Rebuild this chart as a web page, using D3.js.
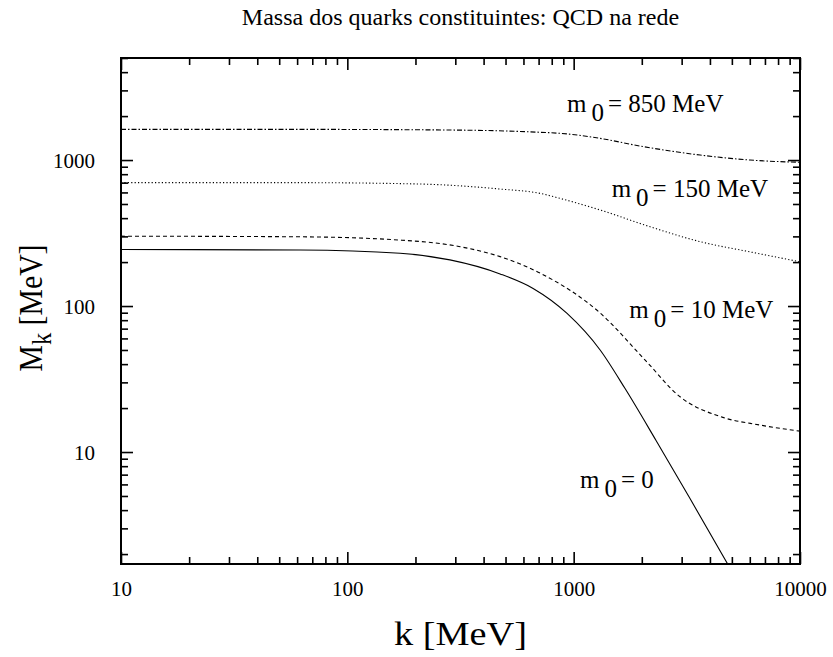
<!DOCTYPE html>
<html>
<head>
<meta charset="utf-8">
<script src="https://cdn.jsdelivr.net/npm/d3@7"></script>
<style>
  body { margin: 0; background: #fff; }
  svg { display: block; font-family: "Liberation Serif", "DejaVu Serif", serif; }
  .frame .domain { display: none; }
  .frame line { stroke: #000; stroke-width: 1.6; }
  .frame text { font-family: "Liberation Serif", serif; font-size: 21px; fill: #000; }
</style>
</head>
<body>
<svg id="chart" width="833" height="657"></svg>
<script>
// k [MeV] vs M_k [MeV]
const k850 = [10, 62, 315, 711, 871, 1309, 1965, 3620, 6010, 10000];
const m850 = [1622, 1622, 1603, 1549, 1524, 1408, 1247, 1082, 1000, 965];

const k150 = [10, 62, 209, 473, 711, 871, 1309, 2178, 3620, 6010, 10000];
const m150 = [700, 700, 685, 633, 591, 546, 455, 349, 276, 235, 201];

const k10 = [10, 62, 171, 315, 473, 711, 1309, 2070, 2951, 4436, 6668, 10000];
const m10 = [301, 298, 283, 255, 218, 168, 89.6, 42.6, 23.9, 17.5, 15.3, 13.9];

const k0 = [10, 62, 171, 284, 473, 662, 935, 1309, 1687, 2312, 3266, 4800, 5500];
const m0 = [244, 242, 230, 207, 166, 132, 89, 50, 27.2, 12.0, 4.8, 1.70, 1.17];

const xMajor = [10, 100, 1000, 10000];
const yMajor = [10, 100, 1000];

const labels = [
    { main: "m", sub: "0", rest: "= 850 MeV", k: 935, m: 2140 },
    { main: "m", sub: "0", rest: "= 150 MeV", k: 1472, m: 561 },
    { main: "m", sub: "0", rest: "= 10 MeV", k: 1762, m: 82.4 },
    { main: "m", sub: "0", rest: "= 0", k: 1067, m: 5.64 }
];

const series = [
    { ks: k850, ms: m850, dash: "5,2,1.5,2" },
    { ks: k150, ms: m150, dash: "1.2,2.2" },
    { ks: k10, ms: m10, dash: "4,3" },
    { ks: k0, ms: m0, dash: null }
];

const W = 833, H = 657;
const margin = { top: 58, right: 33, bottom: 93, left: 121 };
const w = W - margin.left - margin.right;
const h = H - margin.top - margin.bottom;

const svg = d3.select("#chart");

const x = d3.scaleLog().domain([10, 10000]).range([0, w]);
const y = d3.scaleLog().domain([1.71, 5000]).range([h, 0]);

const g = svg.append("g").attr("transform", `translate(${margin.left},${margin.top})`);

g.append("clipPath").attr("id", "clip")
    .append("rect").attr("width", w).attr("height", h);

// minor ticks: everything the log scale gives that is not a power of ten
const xMinor = x.ticks().filter(t => !xMajor.includes(t) && t > 10 && t < 10000);
const yMinor = y.ticks().filter(t => !yMajor.includes(t));

const majorLen = 12, minorLen = 7;

// bottom + top
const xLab = g.append("g").attr("class", "frame").attr("transform", `translate(0,${h})`)
    .call(d3.axisBottom(x).tickValues(xMajor).tickSize(-majorLen).tickPadding(17).tickFormat(d3.format("d")));
g.append("g").attr("class", "frame").attr("transform", `translate(0,${h})`)
    .call(d3.axisBottom(x).tickValues(xMinor).tickSize(-minorLen).tickFormat(""));
g.append("g").attr("class", "frame")
    .call(d3.axisTop(x).tickValues(xMajor).tickSize(-majorLen).tickFormat(""));
g.append("g").attr("class", "frame")
    .call(d3.axisTop(x).tickValues(xMinor).tickSize(-minorLen).tickFormat(""));

// left + right
const yLab = g.append("g").attr("class", "frame")
    .call(d3.axisLeft(y).tickValues(yMajor).tickSize(-majorLen).tickPadding(26).tickFormat(d3.format("d")));
g.append("g").attr("class", "frame")
    .call(d3.axisLeft(y).tickValues(yMinor).tickSize(-minorLen).tickFormat(""));
g.append("g").attr("class", "frame").attr("transform", `translate(${w},0)`)
    .call(d3.axisRight(y).tickValues(yMajor).tickSize(-majorLen).tickFormat(""));
g.append("g").attr("class", "frame").attr("transform", `translate(${w},0)`)
    .call(d3.axisRight(y).tickValues(yMinor).tickSize(-minorLen).tickFormat(""));

yLab.selectAll("text").attr("dy", "0.35em");
xLab.selectAll("text").attr("dy", "0.71em");

// curves
const line = d3.line()
    .x(d => x(d[0]))
    .y(d => y(d[1]))
    .curve(d3.curveMonotoneX);

g.append("g").attr("clip-path", "url(#clip)")
    .selectAll("path")
    .data(series)
    .join("path")
    .attr("d", s => line(s.ks.map((kv, i) => [kv, s.ms[i]])))
    .attr("fill", "none")
    .attr("stroke", "#000")
    .attr("stroke-width", 1.1)
    .attr("stroke-dasharray", s => s.dash);

// frame box
g.append("rect")
    .attr("width", w).attr("height", h)
    .attr("fill", "none").attr("stroke", "#000").attr("stroke-width", 2);

// curve labels
const lab = g.selectAll("text.lab")
    .data(labels)
    .join("text")
    .attr("class", "lab")
    .attr("x", d => x(d.k))
    .attr("y", d => y(d.m))
    .attr("font-size", 25);
lab.append("tspan").text(d => d.main);
lab.append("tspan").attr("dx", 5).attr("dy", 9).text(d => d.sub);
lab.append("tspan").attr("dx", 4).attr("dy", -9).text(d => d.rest);

// titles
svg.append("text")
    .attr("x", margin.left + w / 2).attr("y", 25)
    .attr("text-anchor", "middle").attr("font-size", 24)
    .text("Massa dos quarks constituintes: QCD na rede");

svg.append("text")
    .attr("x", margin.left + w / 2).attr("y", 645)
    .attr("text-anchor", "middle").attr("font-size", 34)
    .attr("textLength", 133).attr("lengthAdjust", "spacingAndGlyphs")
    .text("k [MeV]");

const yl = svg.append("text")
    .attr("transform", `translate(42,308) rotate(-90)`)
    .attr("text-anchor", "middle").attr("font-size", 34)
    .attr("textLength", 127).attr("lengthAdjust", "spacingAndGlyphs");
yl.append("tspan").text("M");
yl.append("tspan").attr("dy", 9).attr("font-size", 28).text("k");
yl.append("tspan").attr("dy", -9).text(" [MeV]");
</script>
</body>
</html>
